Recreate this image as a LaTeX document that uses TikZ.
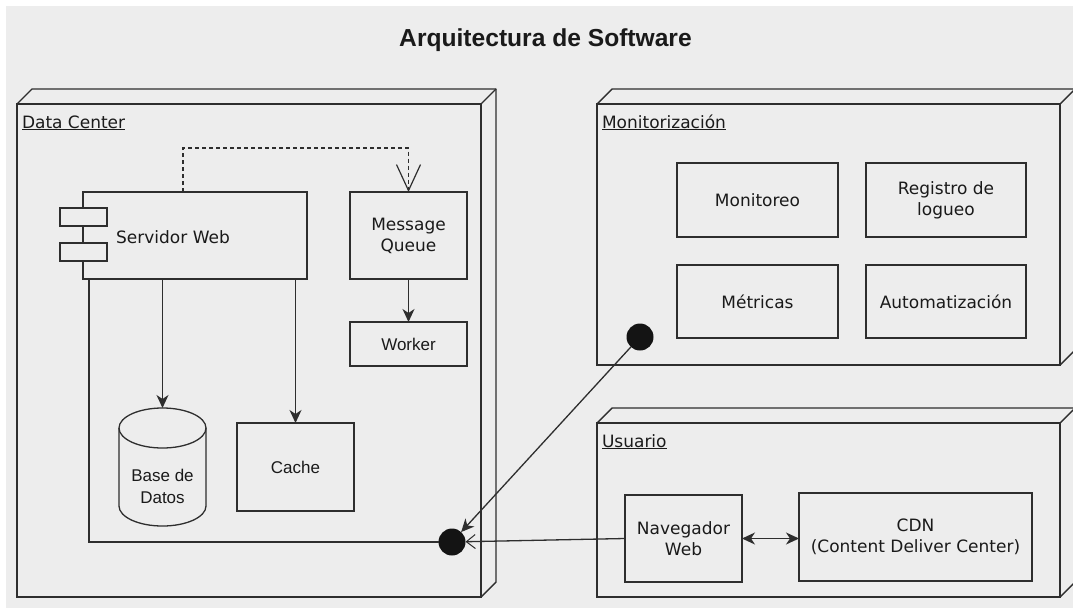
\documentclass[tikz,border=0pt]{standalone}
\usepackage{fontspec}
\usetikzlibrary{arrows.meta,calc}
\newfontfamily\dvfont{DejaVu Sans}
\newfontfamily\arfont{Liberation Sans}
\definecolor{bgcol}{HTML}{EDEDED}
\definecolor{ink}{HTML}{2E2E2E}
\definecolor{txt}{HTML}{1A1A1A}

\begin{document}
\begin{tikzpicture}[x=1pt,y=-1pt,
  every node/.style={inner sep=0pt, outer sep=0pt},
  part/.style={draw=ink, line width=1.3pt, align=center, text=txt,
    font=\dvfont\fontsize{17}{21}\selectfont},
  apart/.style={part, font=\arfont\fontsize{17}{22}\selectfont},
  label3d/.style={anchor=base west, text=txt, font=\dvfont\fontsize{17}{21}\selectfont},
  cube/.style={draw=ink, line width=1.4pt},
  conn/.style={draw=ink, line width=1.3pt},
  headtip/.tip={Stealth[length=13pt,width=12pt,inset=4pt]},
  solidtip/.style={-headtip},
  opentip/.style={-{Straight Barb[length=9pt,width=14pt,line width=1pt]}},
  tab/.style={draw=ink, line width=1.3pt, fill=bgcol, minimum width=47pt, minimum height=18pt},
  dot/.style={circle, fill=black!92, minimum size=27pt}
]
\useasboundingbox (0,0) rectangle (1073,608);
\clip (0,0) rectangle (1073,608);
\fill[white] (0,0) rectangle (1073,608);
\fill[bgcol] (6,6) rectangle (1073,608);

% title
\node[anchor=base, text=txt, font=\arfont\bfseries\fontsize{24.6}{28}\selectfont] (title) at (545.5,46) {Arquitectura de Software};

% three-dimensional containers: front faces
\node[cube, minimum width=464pt, minimum height=493pt] (dc) at (249,350.5) {};
\node[cube, minimum width=463pt, minimum height=261pt] (mon) at (828.5,234.5) {};
\node[cube, minimum width=463pt, minimum height=174pt] (usr) at (828.5,510) {};
% top and side faces
\foreach \c in {dc,mon,usr}{
  \draw[cube, line join=round] (\c.north west) -- ++(15,-15) -- ($(\c.north east)+(15,-15)$)
    -- ($(\c.south east)+(15,-15)$) -- (\c.south east);
  \draw[cube] (\c.north east) -- ++(15,-15);
}
\node[label3d] (dclabel) at (22,128) {\underline{Data Center}};
\node[label3d] (monlabel) at (602,128) {\underline{Monitorización}};
\node[label3d] (usrlabel) at (602,447) {\underline{Usuario}};

% Data Center contents
\node[part, minimum width=224pt, minimum height=87pt] (sw) at (195,235.5) {};
\node[tab] (tabA) at (83.5,217) {};
\node[tab] (tabB) at (83.5,252) {};
\node[text=txt, font=\dvfont\fontsize{17}{21}\selectfont] (swtext) at (173,237) {Servidor Web};
\node[part, minimum width=117pt, minimum height=87pt] (mq) at (408.5,235.5) {Message\\Queue};
\node[apart, minimum width=117pt, minimum height=44pt] (worker) at (408.5,344) {Worker};
\node[apart, minimum width=117pt, minimum height=88pt] (cache) at (295.5,467) {Cache};
% database cylinder
\node[minimum width=87pt, minimum height=118pt] (db) at (162.5,467) {};
\draw[conn] (119,428) -- (119,506) arc[start angle=180, end angle=360, x radius=43.5pt, y radius=20pt] -- (206,428);
\draw[conn] (162.5,428) ellipse[x radius=43.5pt, y radius=20pt];
\node[text=txt, align=center, font=\arfont\fontsize{17}{22}\selectfont] (dbtext) at (162.5,486) {Base de\\Datos};
\node[dot] (dotdc) at (452,542) {};

% Monitorizacion contents
\node[part, minimum width=161pt, minimum height=74pt] (monitoreo) at (757.5,200) {Monitoreo};
\node[part, minimum width=160pt, minimum height=74pt] (registro) at (946,200) {Registro de\\logueo};
\node[part, minimum width=161pt, minimum height=73pt] (metricas) at (757.5,301.5) {Métricas};
\node[part, minimum width=160pt, minimum height=73pt] (automat) at (946,301.5) {Automatización};
\node[dot] (dotmon) at (640,337) {};

% Usuario contents
\node[part, minimum width=117pt, minimum height=87pt] (nav) at (683.5,538.5) {Navegador\\Web};
\node[part, minimum width=233pt, minimum height=88pt] (cdn) at (915.5,537) {CDN\\(Content Deliver Center)};

% connectors
\draw[conn, dash pattern=on 4pt off 3pt, -{Straight Barb[length=26pt,width=24pt,line width=1.2pt]}]
  ([xshift=-12pt]sw.north) -- ++(0,-44) -| (mq.north);
\draw[conn, solidtip] (mq.south) -- (worker.north);
\draw[conn, solidtip] (db.north |- sw.south) -- (db.north);
\draw[conn, solidtip] (cache.north |- sw.south) -- (cache.north);
\draw[conn] ([xshift=6pt]sw.south west) |- (dotdc.west);
\draw[conn, solidtip] (dotmon) -- (dotdc);
\draw[conn, opentip] (nav.west) -- (dotdc);
\draw[conn, headtip-headtip] (nav.east) -- (nav.east -| cdn.west);
\end{tikzpicture}
\end{document}
